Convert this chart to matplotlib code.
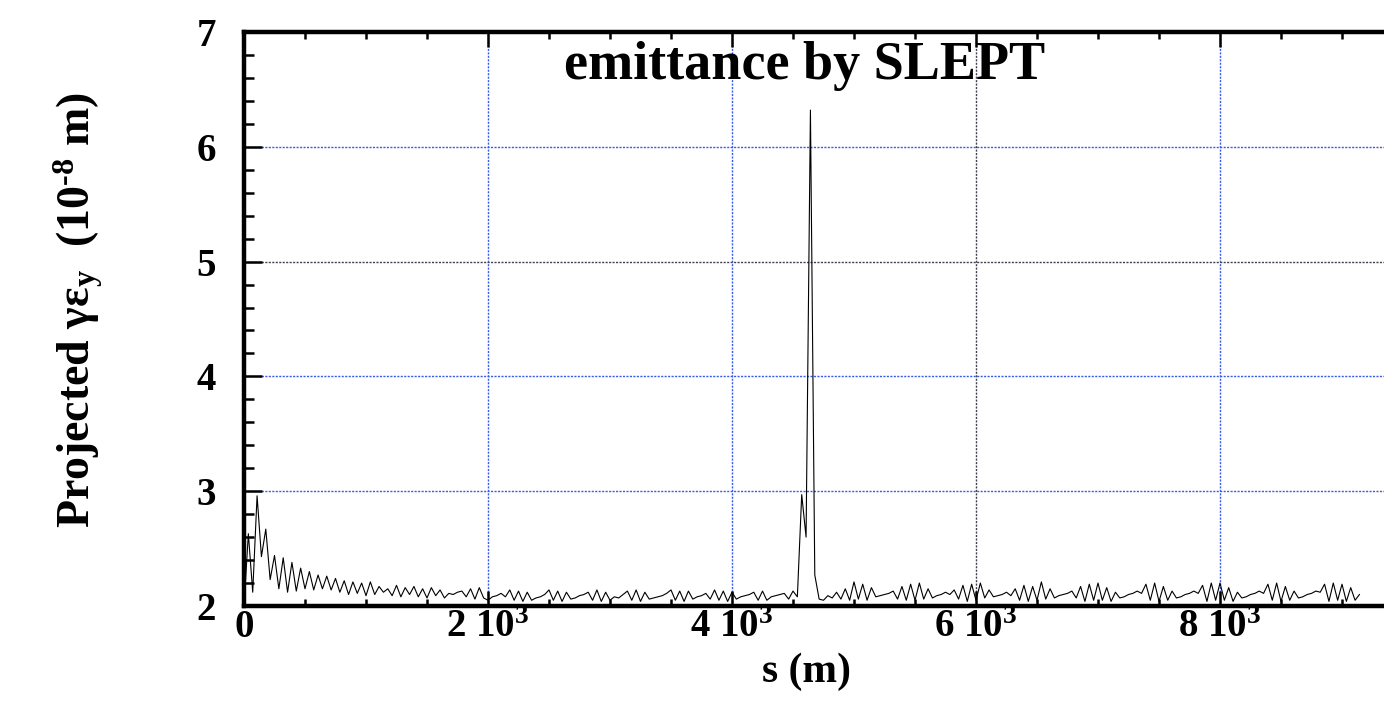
import numpy as np
import matplotlib
matplotlib.use("Agg")
import matplotlib.pyplot as plt
from matplotlib.ticker import MultipleLocator, FixedLocator

plt.rcParams["font.family"] = ["Liberation Serif", "DejaVu Serif"]
plt.rcParams["font.weight"] = "bold"
plt.rcParams["mathtext.fontset"] = "custom"
plt.rcParams["mathtext.rm"] = "Liberation Serif:bold"
plt.rcParams["mathtext.bf"] = "Liberation Serif:bold"
plt.rcParams["mathtext.it"] = "Liberation Serif:bold"
plt.rcParams["mathtext.default"] = "bf"

# sample spacing along the line (m)
s_step = 500.0 / 14

# projected emittance (1e-8 m), one row per 500 m block
emit_y = [
    2.00, 2.63, 2.12, 2.96, 2.43, 2.67, 2.23, 2.44, 2.15, 2.42, 2.12, 2.38, 2.13, 2.33,
    2.15, 2.30, 2.14, 2.27, 2.15, 2.26, 2.14, 2.24, 2.12, 2.22, 2.10, 2.21, 2.11, 2.20,
    2.09, 2.21, 2.10, 2.17, 2.12, 2.15, 2.09, 2.18, 2.08, 2.16, 2.10, 2.17, 2.08, 2.15,
    2.07, 2.16, 2.09, 2.14, 2.07, 2.11, 2.10, 2.12, 2.13, 2.08, 2.15, 2.06, 2.16, 2.07,
    2.05, 2.08, 2.09, 2.11, 2.08, 2.14, 2.05, 2.13, 2.04, 2.12, 2.05, 2.07, 2.08, 2.10,
    2.14, 2.05, 2.13, 2.04, 2.12, 2.06, 2.07, 2.09, 2.10, 2.12, 2.05, 2.14, 2.04, 2.12,
    2.05, 2.08, 2.07, 2.10, 2.13, 2.05, 2.14, 2.04, 2.12, 2.06, 2.07, 2.08, 2.09, 2.11,
    2.14, 2.05, 2.13, 2.04, 2.13, 2.06, 2.08, 2.09, 2.11, 2.06, 2.14, 2.05, 2.13, 2.04,
    2.12, 2.06, 2.08, 2.09, 2.10, 2.12, 2.05, 2.13, 2.05, 2.08, 2.09, 2.10, 2.11, 2.06,
    2.13, 2.08, 2.97, 2.60, 6.32, 2.27, 2.06, 2.05, 2.09, 2.07, 2.12, 2.06, 2.15, 2.05,
    2.21, 2.06, 2.19, 2.05, 2.16, 2.08, 2.09, 2.10, 2.11, 2.13, 2.06, 2.17, 2.05, 2.19,
    2.05, 2.20, 2.06, 2.15, 2.07, 2.09, 2.10, 2.12, 2.10, 2.14, 2.06, 2.18, 2.04, 2.19,
    2.05, 2.20, 2.07, 2.14, 2.08, 2.09, 2.10, 2.12, 2.09, 2.15, 2.05, 2.18, 2.04, 2.17,
    2.05, 2.21, 2.06, 2.15, 2.07, 2.09, 2.10, 2.11, 2.13, 2.07, 2.17, 2.04, 2.19, 2.05,
    2.20, 2.05, 2.16, 2.04, 2.12, 2.07, 2.08, 2.10, 2.11, 2.13, 2.11, 2.19, 2.05, 2.20,
    2.04, 2.17, 2.05, 2.13, 2.07, 2.08, 2.10, 2.11, 2.13, 2.11, 2.18, 2.04, 2.20, 2.05,
    2.20, 2.05, 2.16, 2.04, 2.12, 2.07, 2.08, 2.10, 2.11, 2.13, 2.11, 2.19, 2.05, 2.20,
    2.04, 2.17, 2.05, 2.13, 2.07, 2.08, 2.10, 2.11, 2.13, 2.12, 2.19, 2.04, 2.20, 2.05,
    2.19, 2.04, 2.16, 2.05, 2.10,
]
s = np.arange(len(emit_y)) * s_step

x_ticks = [0, 2000, 4000, 6000, 8000]
x_labels = ["0", "2 10$^3$", "4 10$^3$", "6 10$^3$", "8 10$^3$"]
y_ticks = [2, 3, 4, 5, 6, 7]

W, H = 1384, 710
fig = plt.figure(figsize=(W / 100, H / 100), dpi=100)
# axes run past the right edge of the picture (cropped original)
ax = fig.add_axes([244 / W, (H - 606) / H, (1464 - 244) / W, (606 - 32) / H])

ax.plot(s, emit_y, color="black", linewidth=0.8)

ax.set_xlim(0, 10000)
ax.set_ylim(2, 7)

ax.xaxis.set_major_locator(FixedLocator(x_ticks))
ax.set_xticklabels(x_labels)
ax.xaxis.set_minor_locator(MultipleLocator(500))
ax.yaxis.set_major_locator(FixedLocator(y_ticks))
ax.yaxis.set_minor_locator(MultipleLocator(0.2))

ax.tick_params(axis="both", which="both", direction="in", top=True, right=True,
               width=1.8, labelsize=28)
ax.tick_params(axis="x", which="major", length=11, pad=2)
ax.tick_params(axis="x", which="minor", length=5)
ax.tick_params(axis="y", which="major", length=13, pad=20)
ax.tick_params(axis="y", which="minor", length=7)
for lab in ax.get_xticklabels() + ax.get_yticklabels():
    lab.set_fontweight("bold")

for sp in ax.spines.values():
    sp.set_linewidth(3.2)

ax.grid(True, which="major", color="#3a5ae8", linestyle=(0, (1.5, 1)), linewidth=1.0)
# the 6e3 and 5 grid lines print darker in the original
for gl, val in zip(ax.get_xgridlines(), x_ticks):
    if val == 6000:
        gl.set_color("#404050")
for gl, val in zip(ax.get_ygridlines(), y_ticks):
    if val == 5:
        gl.set_color("#404050")
ax.set_axisbelow(True)

fig.text(805 / W, 1 - 66 / H, "emittance by SLEPT", ha="center", va="center",
         fontsize=39, fontweight="bold")
fig.text(807 / W, 1 - 672 / H, "s (m)", ha="center", va="center",
         fontsize=30, fontweight="bold")
fig.text(78 / W, 1 - 310 / H, r"Projected $\gamma\epsilon_y$  (10$^{\text{-8}}$ m)",
         ha="center", va="center", rotation=90, fontsize=33, fontweight="bold")

fig.savefig("out.png", dpi=100)
